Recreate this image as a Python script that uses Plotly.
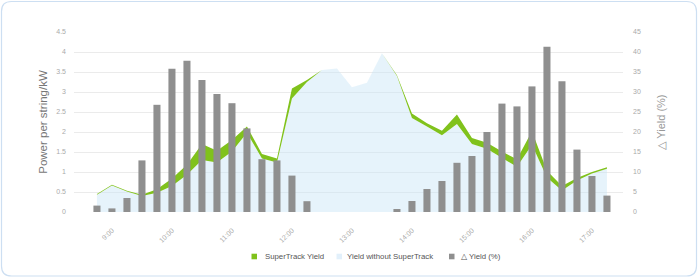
import plotly.graph_objects as go

# ---- data ----
times = ["8:45", "9:00", "9:15", "9:30", "9:45", "10:00", "10:15", "10:30", "10:45",
         "11:00", "11:15", "11:30", "11:45", "12:00", "12:15", "12:30", "12:45",
         "13:00", "13:15", "13:30", "13:45", "14:00", "14:15", "14:30", "14:45",
         "15:00", "15:15", "15:30", "15:45", "16:00", "16:15", "16:30", "16:45",
         "17:00", "17:15"]

yield_without = [0.43, 0.66, 0.51, 0.40, 0.48, 0.65, 0.93, 1.30, 1.24, 1.51, 1.98, 1.34,
                 1.24, 2.84, 3.25, 3.55, 3.59, 3.12, 3.23, 3.97, 3.40, 2.35, 2.14, 1.92,
                 2.20, 1.70, 1.58, 1.35, 1.13, 1.68, 0.86, 0.54, 0.79, 0.96, 1.08]

yield_with = [0.45, 0.68, 0.53, 0.43, 0.57, 0.84, 1.18, 1.70, 1.53, 1.80, 2.14, 1.45,
              1.34, 3.09, 3.30, 3.55, 3.59, 3.12, 3.23, 3.97, 3.42, 2.46, 2.22, 2.03,
              2.44, 1.85, 1.73, 1.51, 1.32, 2.02, 1.03, 0.65, 0.85, 1.00, 1.12]

delta_yield = [1.6, 0.9, 3.5, 12.9, 26.8, 35.8, 37.8, 33.0, 29.5, 27.2, 20.9, 13.2,
               12.9, 9.1, 2.7, 0, 0, 0, 0, 0, 0.75, 2.75, 5.75, 7.75, 12.3, 14.0,
               20.0, 27.1, 26.4, 31.4, 41.3, 32.7, 15.6, 9.0, 4.1]

hour_ticks = ["9:00", "10:00", "11:00", "12:00", "13:00", "14:00", "15:00", "16:00", "17:00"]
left_ticks = [0, 0.5, 1, 1.5, 2, 2.5, 3, 3.5, 4, 4.5]
left_tick_text = ["0", "0.5", "1", "1.5", "2", "2.5", "3", "3.5", "4", "4.5"]
right_ticks = [0, 5, 10, 15, 20, 25, 30, 35, 40, 45]

series_names = ["SuperTrack Yield", "Yield without SuperTrack", "\u25b3 Yield (%)"]

GREEN = "#80c21c"
BLUE_FILL = "rgba(200,228,246,0.45)"
BLUE_LEG = "#e2f0fb"
GREY = "#8f8f8f"

W, H = 700, 278
ML, MR, MT, MB = 74, 77, 32, 66
PW, PH = W - ML - MR, H - MT - MB

fig = go.Figure()

# light blue area (yield without SuperTrack)
fig.add_trace(go.Scatter(x=times, y=yield_without, mode="lines", line=dict(width=0, color=BLUE_FILL),
                         fill="tozeroy", fillcolor=BLUE_FILL, showlegend=False, name=series_names[1]))
# green band between without and with
fig.add_trace(go.Scatter(x=times, y=yield_without, mode="lines", line=dict(width=0, color=GREEN),
                         showlegend=False, hoverinfo="skip"))
fig.add_trace(go.Scatter(x=times, y=yield_with, mode="lines", line=dict(width=0, color=GREEN),
                         fill="tonexty", fillcolor=GREEN, showlegend=False, name=series_names[0]))
# bars on secondary axis
fig.add_trace(go.Bar(x=times, y=delta_yield, yaxis="y2", width=0.47,
                     marker=dict(color=GREY, line=dict(width=0)),
                     showlegend=False, name=series_names[2]))


def px(v):
    return (v - ML) / PW


def py(v):
    return (MT + PH - v) / PH


# card border
x0, x1, y0, y1, r = 1.5, 696.5, 1.5, 276.0, 10
path = (f"M {px(x0+r)},{py(y0)} L {px(x1-r)},{py(y0)} Q {px(x1)},{py(y0)} {px(x1)},{py(y0+r)} "
        f"L {px(x1)},{py(y1-r)} Q {px(x1)},{py(y1)} {px(x1-r)},{py(y1)} "
        f"L {px(x0+r)},{py(y1)} Q {px(x0)},{py(y1)} {px(x0)},{py(y1-r)} "
        f"L {px(x0)},{py(y0+r)} Q {px(x0)},{py(y0)} {px(x0+r)},{py(y0)} Z")
shapes = [dict(type="path", xref="paper", yref="paper", path=path,
               line=dict(color="#cddff2", width=1.2), fillcolor="rgba(0,0,0,0)", layer="above")]

# legend (manual, matching the compact original layout)
legend_colors = [GREEN, BLUE_LEG, GREY]
legend_square_x = [251.5, 336.5, 449.0]
legend_text_x = [262.5, 345.0, 458.5]
legend_y = 256.5
annotations = []
for nm, col, sx, tx in zip(series_names, legend_colors, legend_square_x, legend_text_x):
    shapes.append(dict(type="rect", xref="paper", yref="paper",
                       x0=px(sx), x1=px(sx + 5.5), y0=py(legend_y + 2.8), y1=py(legend_y - 2.8),
                       fillcolor=col, line=dict(width=0), layer="above"))
    annotations.append(dict(text=nm, xref="paper", yref="paper", x=px(tx), y=py(legend_y),
                            xanchor="left", yanchor="middle", showarrow=False,
                            font=dict(size=7.8, color="#555555")))

fig.update_layout(
    width=W, height=H,
    margin=dict(l=ML, r=MR, t=MT, b=MB, pad=0),
    paper_bgcolor="white", plot_bgcolor="white",
    font=dict(family="Liberation Sans, Arial, sans-serif", color="#999999", size=7),
    barmode="overlay",
    showlegend=False,
    shapes=shapes,
    annotations=annotations,
    xaxis=dict(type="category", range=[-1.53, 35.07], tickmode="array", tickvals=hour_ticks,
               ticktext=hour_ticks, tickangle=-45, showgrid=False, zeroline=False, showline=False,
               ticks="", ticklabelstandoff=12, tickfont=dict(size=7, color="#aaaaaa"), fixedrange=True,
               automargin=False),
    yaxis=dict(range=[0, 4.5], tickmode="array", tickvals=left_ticks, ticktext=left_tick_text,
               showgrid=True, gridcolor="#ebebeb", gridwidth=1, zeroline=False, showline=False,
               ticks="", ticklabelstandoff=7, tickfont=dict(size=7, color="#aaaaaa"), automargin=False,
               title=dict(text="Power per string/kW", font=dict(size=11.5, color="#777777"), standoff=6)),
    yaxis2=dict(range=[0, 45], overlaying="y", side="right", tickmode="array", tickvals=right_ticks,
                ticksuffix="%", showgrid=False, zeroline=False, showline=False, ticks="",
                ticklabelstandoff=9, tickfont=dict(size=7, color="#aaaaaa"), automargin=False,
                title=dict(text="\u25b3 Yield (%)", font=dict(size=11, color="#999999"), standoff=17)),
)

fig.write_html("out.html")
